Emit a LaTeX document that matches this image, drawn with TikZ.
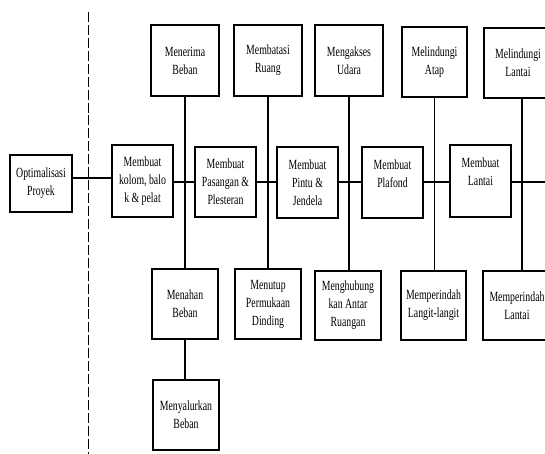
\documentclass[tikz,border=0pt]{standalone}
\usepackage{fontspec}
\setmainfont{Liberation Serif}[FakeStretch=0.7]
\begin{document}
\begin{tikzpicture}[x=0.75pt,y=-0.75pt,
  box/.style={draw, line width=1.1pt, align=center, inner sep=0pt,
    font=\fontsize{10.5}{13.5}\selectfont},
  bx/.style 2 args={box, minimum width=#1*0.75pt, minimum height=#2*0.75pt},
  mainline/.style={line width=1.5pt},
  vline/.style={line width=1pt},
  divider/.style={line width=1.2pt, dash pattern=on 7.5pt off 2.2pt}]
\useasboundingbox (0,0) rectangle (545,453);

% main row
\node[bx={62}{57}] (opt) at (41,183.5) {Optimalisasi\\Proyek};
\node[bx={61}{72}] (kolom) at (142.5,181) {Membuat\\kolom, balo\\k \& pelat};
\node[bx={61}{70}] (pas) at (225.5,182) {Membuat\\Pasangan \&\\Plesteran};
\node[bx={61}{71}] (pintu) at (307.5,182.5) {Membuat\\Pintu \&\\Jendela};
\node[bx={61}{71}] (plafond) at (392.5,182.5) {Membuat\\Plafond\\\mbox{}};
\node[bx={61}{72}] (lantai) at (480.5,181) {Membuat\\Lantai\\\mbox{}};

% top row
\node[bx={68}{71}] (menerima) at (185,60.5) {Menerima\\Beban};
\node[bx={68}{71}] (membatasi) at (268,60.5) {Membatasi\\Ruang};
\node[bx={68}{71}] (mengakses) at (349,60.5) {Mengakses\\Udara};
\node[bx={65}{70}] (atap) at (434.5,62) {Melindungi\\Atap};
\node[bx={68}{70}] (mlantai) at (518,63) {Melindungi\\Lantai};

% bottom row
\node[bx={66}{70}] (menahan) at (185,304) {Menahan\\Beban};
\node[bx={66}{70}] (menutup) at (268,304) {Menutup\\Permukaan\\Dinding};
\node[bx={66}{69}] (menghub) at (348,305.5) {Menghubung\\kan Antar\\Ruangan};
\node[bx={65}{69}] (langit) at (433.5,305.5) {Memperindah\\Langit-langit};
\node[bx={68}{69}] (mplantai) at (517,305.5) {Memperindah\\Lantai};
\node[bx={66}{70}] (menyalurkan) at (186,415) {Menyalurkan\\Beban};

% coordinates
\coordinate (m) at (0,182);
\coordinate (lx) at (522,0);
\coordinate (endr) at (550,182);
\coordinate (dt) at (88.5,12);
\coordinate (db) at (88.5,456);

% dashed divider
\draw[divider] (dt) -- (db);

% vertical links
\draw[vline] (menerima.south) -- (menahan.north);
\draw[vline] (menahan.south) -- (menahan.south |- menyalurkan.north);
\draw[vline] (membatasi.south) -- (menutup.north);
\draw[vline] (mengakses.south) -- (mengakses.south |- menghub.north);
\draw[vline] (atap.south) -- (atap.south |- langit.north);
\draw[vline] (mlantai.south -| lx) -- (mplantai.north -| lx);

% main horizontal links
\draw[mainline] ([yshift=4.1pt]opt.east) -- ([yshift=4.1pt]opt.east -| kolom.west);
\draw[mainline] (kolom.east |- m) -- (pas.west |- m);
\draw[mainline] (pas.east |- m) -- (pintu.west |- m);
\draw[mainline] (pintu.east |- m) -- (plafond.west |- m);
\draw[mainline] (plafond.east |- m) -- (lantai.west |- m);
\draw[mainline] (lantai.east |- m) -- (endr);
\end{tikzpicture}
\end{document}
